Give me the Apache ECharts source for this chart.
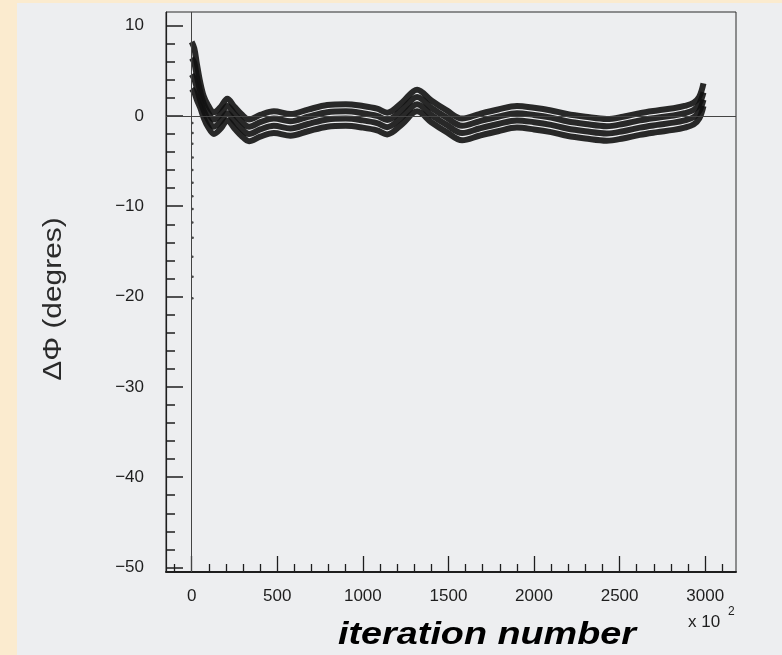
<!DOCTYPE html>
<html>
<head>
<meta charset="utf-8">
<script src="https://cdn.jsdelivr.net/npm/echarts@6/dist/echarts.min.js"></script>
<style>
    html, body { margin: 0; padding: 0; width: 782px; height: 655px; background: #fbebcf; overflow: hidden; }
    #panel { position: absolute; left: 17px; top: 3px; width: 765px; height: 652px; background: #edeef0; }
</style>
</head>
<body>
<div id="panel"></div>
<script>
var iterations = [0, 15, 30, 50, 70, 95, 130, 170, 208, 250, 290, 335, 400, 480, 577, 680, 792, 900, 1000, 1083,
    1142, 1230, 1317, 1400, 1490, 1580, 1680, 1790, 1900, 2000, 2100, 2192, 2300, 2425, 2520, 2618, 2720, 2815,
    2880, 2932, 2965, 2990];

// four streaks of the band, top to bottom (degrees)
var phiTop = [8.2, 7.5, 5.8, 3.7, 2.2, 1.2, 0.4, 1.0, 1.9, 1.0, 0.2, -0.4, 0.1, 0.5, 0.2, 0.7, 1.2, 1.3, 1.1, 0.8,
    0.35, 1.5, 2.9, 1.7, 0.6, -0.3, 0.2, 0.7, 1.1, 0.9, 0.6, 0.2, -0.1, -0.35, -0.1, 0.3, 0.6, 0.85, 1.1, 1.45,
    2.1, 3.6];
var phiUpper = [6.4, 5.9, 4.4, 2.7, 1.4, 0.4, -0.4, 0.2, 1.1, 0.2, -0.6, -1.2, -0.7, -0.3, -0.6, -0.1, 0.4, 0.5,
    0.3, 0.0, -0.45, 0.7, 2.1, 0.9, -0.2, -1.1, -0.6, -0.1, 0.3, 0.1, -0.2, -0.6, -0.9, -1.15, -0.9, -0.5, -0.2,
    0.05, 0.3, 0.65, 1.3, 2.6];
var phiLower = [4.6, 4.1, 3.1, 1.7, 0.6, -0.4, -1.2, -0.6, 0.3, -0.6, -1.4, -2.0, -1.5, -1.1, -1.4, -0.9, -0.4,
    -0.3, -0.5, -0.8, -1.25, -0.1, 1.3, 0.1, -1.0, -1.9, -1.4, -0.9, -0.5, -0.7, -1.0, -1.4, -1.7, -1.95, -1.7,
    -1.3, -1.0, -0.75, -0.5, -0.15, 0.5, 1.8];
var phiBottom = [3.0, 2.6, 1.8, 0.9, -0.2, -1.2, -2.0, -1.4, -0.5, -1.4, -2.2, -2.8, -2.3, -1.9, -2.2, -1.7, -1.2,
    -1.1, -1.3, -1.6, -2.05, -0.9, 0.5, -0.7, -1.8, -2.7, -2.2, -1.7, -1.3, -1.5, -1.8, -2.2, -2.5, -2.75, -2.5,
    -2.1, -1.8, -1.55, -1.3, -0.95, -0.3, 1.1];

// early transient points near iteration 0
var transientX = [4, 5, 4, 6, 4, 5, 4, 5, 4, 6, 4, 5, 4];
var transientY = [-0.8, -1.9, -3.1, -4.6, -6.0, -7.4, -8.9, -10.3, -11.8, -13.5, -15.6, -17.8, -20.2];

// axis ticks
var xLabelTicks = [0, 500, 1000, 1500, 2000, 2500, 3000];
var xMinorTicks = [-100, 100, 200, 300, 400, 600, 700, 800, 900, 1100, 1200, 1300, 1400, 1600, 1700, 1800, 1900,
    2100, 2200, 2300, 2400, 2600, 2700, 2800, 2900, 3100];
var yLabelTicks = [-50, -40, -30, -20, -10, 0, 10];
var yMinorTicks = [-48, -46, -44, -42, -38, -36, -34, -32, -28, -26, -24, -22, -18, -16, -14, -12, -8, -6, -4, -2,
    2, 4, 6, 8];

var FONT = '"Liberation Sans", Arial, Helvetica, sans-serif';
var INK = '#1e1e1e';

function pairs(xs, ys) {
    return xs.map(function (x, i) { return [x, ys[i]]; });
}

function fmt(v) {
    return v < 0 ? '\u2212' + (-v) : String(v);
}

function streak(name, ys) {
    return {
        name: name,
        type: 'line',
        data: pairs(iterations, ys),
        smooth: 0.35,
        showSymbol: false,
        lineStyle: {color: '#121212', width: 6, opacity: 0.9},
        z: 3
    };
}

var xRange = {min: -150, max: 3180};
var yRange = {min: -50.5, max: 11.5};

var chart = echarts.init(document.getElementById('panel'), null, {renderer: 'canvas'});

chart.setOption({
    animation: false,
    backgroundColor: 'transparent',
    grid: {
        left: 149, top: 9, right: 46, bottom: 83,
        show: true, borderColor: '#2a2a2a', borderWidth: 1, backgroundColor: 'transparent'
    },
    xAxis: [{
        type: 'value', min: xRange.min, max: xRange.max, position: 'bottom',
        axisLine: {show: true, onZero: false, lineStyle: {color: INK, width: 2}},
        axisTick: {show: true, inside: true, length: 16, customValues: xLabelTicks, lineStyle: {color: INK, width: 1.3}},
        axisLabel: {
            show: true, customValues: xLabelTicks, margin: 16, formatter: fmt,
            color: INK, fontFamily: FONT, fontSize: 17
        },
        splitLine: {show: false}
    }, {
        type: 'value', min: xRange.min, max: xRange.max, position: 'bottom',
        axisLine: {show: false, onZero: false},
        axisTick: {show: true, inside: true, length: 8, customValues: xMinorTicks, lineStyle: {color: INK, width: 1.3}},
        axisLabel: {show: false},
        splitLine: {show: false}
    }],
    yAxis: [{
        type: 'value', min: yRange.min, max: yRange.max, position: 'left',
        axisLine: {show: true, onZero: false, lineStyle: {color: INK, width: 1.2}},
        axisTick: {show: true, inside: true, length: 17, customValues: yLabelTicks, lineStyle: {color: INK, width: 1.5}},
        axisLabel: {
            show: true, customValues: yLabelTicks, margin: 22, formatter: fmt,
            color: INK, fontFamily: FONT, fontSize: 17
        },
        splitLine: {show: false}
    }, {
        type: 'value', min: yRange.min, max: yRange.max, position: 'left',
        axisLine: {show: false, onZero: false},
        axisTick: {show: true, inside: true, length: 9, customValues: yMinorTicks, lineStyle: {color: INK, width: 1.5}},
        axisLabel: {show: false},
        splitLine: {show: false}
    }],
    series: [
        {
            name: 'zero',
            type: 'line',
            data: [],
            markLine: {
                silent: true,
                symbol: ['none', 'none'],
                label: {show: false},
                lineStyle: {color: '#444', width: 1, type: 'solid'},
                data: [{yAxis: 0}, {xAxis: 0}]
            }
        },
        streak('top', phiTop),
        streak('upper', phiUpper),
        streak('lower', phiLower),
        streak('bottom', phiBottom),
        {
            name: 'transient',
            type: 'scatter',
            data: pairs(transientX, transientY),
            symbolSize: 2.5,
            itemStyle: {color: '#222'},
            z: 3
        }
    ],
    graphic: [
        {
            type: 'text', x: 37, y: 296, rotation: Math.PI / 2, scaleX: 1.15,
            style: {
                text: '\u0394\u03a6 (degres)', x: 0, y: 0, align: 'center', verticalAlign: 'middle',
                font: '26px ' + FONT, fill: '#2a2a2a'
            }
        },
        {
            type: 'text', x: 470, y: 632, scaleX: 1.18,
            style: {
                text: 'iteration number', x: 0, y: 0, align: 'center', verticalAlign: 'middle',
                font: 'italic bold 32px ' + FONT, fill: '#000'
            }
        },
        {
            type: 'text', x: 671, y: 619,
            style: {
                text: 'x 10', x: 0, y: 0, align: 'left', verticalAlign: 'middle',
                font: '17px ' + FONT, fill: INK
            }
        },
        {
            type: 'text', x: 711, y: 609,
            style: {
                text: '2', x: 0, y: 0, align: 'left', verticalAlign: 'middle',
                font: '12px ' + FONT, fill: INK
            }
        }
    ]
});
</script>
</body>
</html>
